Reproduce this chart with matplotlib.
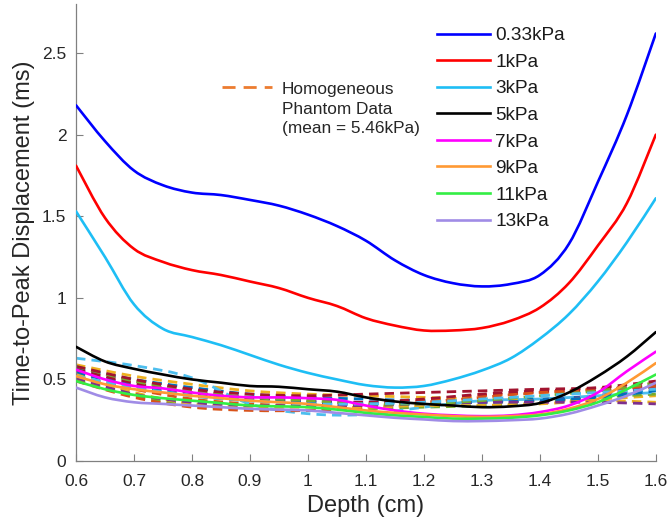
import numpy as np
import matplotlib
matplotlib.use("Agg")
import matplotlib.pyplot as plt
from matplotlib.path import Path
from matplotlib.patches import PathPatch
from matplotlib.lines import Line2D

plt.rcParams['font.family'] = ['Liberation Sans', 'DejaVu Sans']

# Depth samples (cm) for the layered-model curves
depth = [0.60, 0.65, 0.70, 0.75, 0.80, 0.85, 0.90, 0.95, 1.00, 1.05, 1.10,
         1.15, 1.20, 1.25, 1.30, 1.35, 1.40, 1.45, 1.50, 1.55, 1.60]

labels = ['0.33kPa', '1kPa', '3kPa', '5kPa', '7kPa', '9kPa', '11kPa', '13kPa']
colors = ['#0000FF', '#FF0000', '#1EBEF5', '#000000', '#FF00FF', '#FF9933',
          '#33EE44', '#A08CE6']

ttp_033 = [2.18, 1.96, 1.78, 1.69, 1.645, 1.63, 1.60, 1.565, 1.51, 1.44, 1.35,
           1.23, 1.14, 1.09, 1.07, 1.085, 1.14, 1.33, 1.71, 2.12, 2.62]
ttp_1 = [1.81, 1.49, 1.30, 1.22, 1.17, 1.14, 1.10, 1.06, 1.00, 0.95, 0.875,
         0.83, 0.80, 0.80, 0.815, 0.86, 0.94, 1.09, 1.32, 1.58, 2.00]
ttp_3 = [1.53, 1.25, 0.96, 0.81, 0.76, 0.71, 0.65, 0.59, 0.54, 0.50, 0.465,
         0.45, 0.46, 0.50, 0.555, 0.63, 0.75, 0.90, 1.10, 1.34, 1.61]
ttp_5 = [0.70, 0.61, 0.565, 0.53, 0.50, 0.48, 0.46, 0.455, 0.44, 0.425, 0.39,
         0.365, 0.35, 0.34, 0.33, 0.335, 0.355, 0.42, 0.52, 0.64, 0.79]
ttp_7 = [0.56, 0.50, 0.46, 0.445, 0.42, 0.40, 0.39, 0.39, 0.385, 0.375, 0.34,
         0.31, 0.29, 0.28, 0.275, 0.28, 0.30, 0.34, 0.42, 0.55, 0.67]
ttp_9 = [0.52, 0.47, 0.44, 0.42, 0.40, 0.385, 0.37, 0.36, 0.35, 0.33, 0.31,
         0.295, 0.285, 0.275, 0.27, 0.275, 0.285, 0.32, 0.38, 0.48, 0.60]
ttp_11 = [0.49, 0.44, 0.405, 0.385, 0.37, 0.355, 0.34, 0.335, 0.33, 0.315, 0.295,
          0.28, 0.27, 0.26, 0.26, 0.265, 0.28, 0.31, 0.36, 0.44, 0.53]
ttp_13 = [0.45, 0.39, 0.36, 0.35, 0.34, 0.33, 0.32, 0.315, 0.31, 0.295, 0.28,
          0.265, 0.255, 0.245, 0.245, 0.25, 0.26, 0.29, 0.34, 0.40, 0.48]
model_series = [ttp_033, ttp_1, ttp_3, ttp_5, ttp_7, ttp_9, ttp_11, ttp_13]

# Homogeneous phantom acquisitions (dashed)
phantom_depth = [0.6, 0.7, 0.8, 0.9, 1.0, 1.1, 1.2, 1.3, 1.4, 1.5, 1.6]
phantom_01 = [0.57, 0.50, 0.45, 0.41, 0.39, 0.38, 0.37, 0.37, 0.38, 0.40, 0.44]
phantom_02 = [0.52, 0.44, 0.38, 0.35, 0.34, 0.35, 0.37, 0.40, 0.42, 0.43, 0.45]
phantom_03 = [0.59, 0.52, 0.47, 0.43, 0.41, 0.40, 0.39, 0.38, 0.37, 0.38, 0.40]
phantom_04 = [0.55, 0.47, 0.42, 0.39, 0.37, 0.36, 0.36, 0.36, 0.37, 0.40, 0.46]
phantom_05 = [0.50, 0.40, 0.34, 0.32, 0.31, 0.32, 0.33, 0.34, 0.36, 0.39, 0.41]
phantom_06 = [0.63, 0.585, 0.51, 0.35, 0.29, 0.285, 0.33, 0.37, 0.38, 0.40, 0.42]
phantom_07 = [0.56, 0.48, 0.42, 0.38, 0.36, 0.36, 0.38, 0.41, 0.43, 0.44, 0.47]
phantom_08 = [0.54, 0.46, 0.40, 0.37, 0.36, 0.35, 0.35, 0.36, 0.37, 0.39, 0.43]
phantom_09 = [0.49, 0.39, 0.33, 0.31, 0.31, 0.33, 0.36, 0.39, 0.42, 0.44, 0.46]
phantom_10 = [0.53, 0.42, 0.35, 0.33, 0.33, 0.33, 0.34, 0.34, 0.35, 0.37, 0.36]
phantom_11 = [0.51, 0.41, 0.36, 0.34, 0.34, 0.34, 0.35, 0.36, 0.36, 0.36, 0.35]
phantom_12 = [0.58, 0.49, 0.43, 0.39, 0.37, 0.35, 0.35, 0.37, 0.40, 0.43, 0.48]
phantom_13 = [0.52, 0.45, 0.40, 0.37, 0.35, 0.35, 0.36, 0.38, 0.40, 0.42, 0.44]
phantom_14 = [0.58, 0.50, 0.44, 0.41, 0.40, 0.41, 0.42, 0.43, 0.44, 0.45, 0.49]
phantom_series = [phantom_01, phantom_02, phantom_03, phantom_04, phantom_05,
                  phantom_06, phantom_07, phantom_08, phantom_09, phantom_10,
                  phantom_11, phantom_12, phantom_13, phantom_14]
phantom_colors = ['#0072BD', '#D95319', '#EDB120', '#7E2F8E', '#77AC30',
                  '#4DBEEE', '#A2142F']

x_ticks = [0.6, 0.7, 0.8, 0.9, 1.0, 1.1, 1.2, 1.3, 1.4, 1.5, 1.6]
x_ticklabels = ['0.6', '0.7', '0.8', '0.9', '1', '1.1', '1.2', '1.3', '1.4', '1.5', '1.6']
y_ticks = [0, 0.5, 1, 1.5, 2, 2.5]
y_ticklabels = ['0', '0.5', '1', '1.5', '2', '2.5']


def smooth_path(xs, ys):
    """Cubic Bezier path passing through every sample (Catmull-Rom tangents)."""
    p = np.column_stack([xs, ys]).astype(float)
    ext = np.vstack([p[0], p, p[-1]])
    verts = [p[0]]
    codes = [Path.MOVETO]
    for i in range(len(p) - 1):
        a, b, c, d = ext[i], ext[i + 1], ext[i + 2], ext[i + 3]
        verts += [b + (c - a) / 6.0, c - (d - b) / 6.0, c]
        codes += [Path.CURVE4] * 3
    return Path(verts, codes)


fig = plt.figure(figsize=(6.68, 5.27), dpi=100)
ax = fig.add_axes([0.1138, 0.1252, 0.868, 0.867])

dash = (0, (3.4, 2.2))
for i, ys in enumerate(phantom_series):
    ax.add_patch(PathPatch(smooth_path(phantom_depth, ys), fill=False,
                           edgecolor=phantom_colors[i % len(phantom_colors)],
                           lw=2.0, linestyle=dash, zorder=2))

handles = []
for ys, c, lab in zip(model_series, colors, labels):
    ax.add_patch(PathPatch(smooth_path(depth, ys), fill=False, edgecolor=c,
                           lw=1.9, zorder=3, capstyle='round'))
    handles.append(Line2D([], [], color=c, lw=1.9, label=lab))

ax.set_xlim(0.6, 1.6)
ax.set_ylim(0, 2.8)
ax.set_xticks(x_ticks)
ax.set_xticklabels(x_ticklabels)
ax.set_yticks(y_ticks)
ax.set_yticklabels(y_ticklabels)

ax.spines['top'].set_visible(False)
ax.spines['right'].set_visible(False)
for s in ('left', 'bottom'):
    ax.spines[s].set_color('#808080')
    ax.spines[s].set_linewidth(0.9)
ax.tick_params(direction='in', length=5, width=0.8, color='#808080',
               labelsize=12.5, labelcolor='#262626')
ax.tick_params(axis='x', pad=9.5)
ax.tick_params(axis='y', pad=7)

ax.set_xlabel('Depth (cm)', fontsize=17, color='#262626', labelpad=4)
ax.set_ylabel('Time-to-Peak Displacement (ms)', fontsize=17, color='#262626',
              labelpad=5)

leg = ax.legend(handles=handles, loc='upper left', bbox_to_anchor=(0.6, 0.979),
                frameon=False, fontsize=13.7, handlelength=2.78,
                handletextpad=0.26, labelspacing=0.485, borderaxespad=0.3)
for t in leg.get_texts():
    t.set_color('#1a1a1a')

# Annotation for the dashed phantom curves
ax.plot([0.852, 0.938], [2.29, 2.29], color='#EC7C30', lw=2.0,
        linestyle=(0, (4.7, 2.9)), clip_on=False)
ax.text(0.955, 2.157, 'Homogeneous\nPhantom Data\n(mean = 5.46kPa)',
        fontsize=12.4, color='#262626', va='center', ha='left', linespacing=1.4)

fig.savefig('out.png', dpi=100, facecolor='white')
